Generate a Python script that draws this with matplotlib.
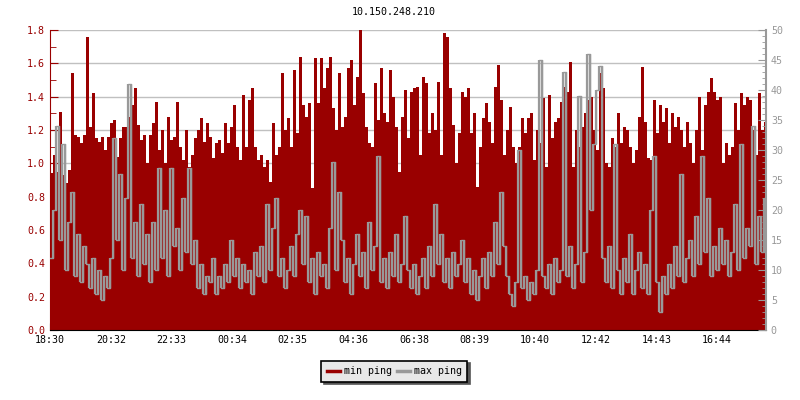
import numpy as np
import matplotlib
matplotlib.use("Agg")
import matplotlib.pyplot as plt
from matplotlib.ticker import MultipleLocator, FormatStrFormatter

# ping samples, one every 6 minutes starting 18:30
min_ping = [
    # 18:30 - 00:30
    0.94, 1.05, 0.95, 1.31, 0.93, 0.88, 0.96, 1.54, 1.17, 1.16,
    1.12, 1.17, 1.76, 1.22, 1.42, 1.15, 1.13, 1.16, 1.08, 1.16,
    1.24, 1.26, 1.04, 1.15, 1.22, 1.22, 1.28, 1.35, 1.45, 1.23,
    1.14, 1.17, 1.00, 1.17, 1.24, 1.37, 1.08, 1.20, 1.00, 1.28,
    1.14, 1.16, 1.37, 1.10, 1.02, 1.20, 0.98, 1.05, 1.15, 1.20,
    1.27, 1.13, 1.24, 1.16, 1.03, 1.12, 1.14, 1.06, 1.24, 1.12,
    # 00:30 - 06:30
    1.22, 1.35, 1.10, 1.02, 1.41, 1.10, 1.38, 1.45, 1.10, 1.02,
    1.05, 0.98, 1.02, 0.89, 1.24, 1.05, 1.10, 1.54, 1.20, 1.27,
    1.10, 1.56, 1.18, 1.64, 1.35, 1.28, 1.36, 0.85, 1.63, 1.36,
    1.63, 1.45, 1.57, 1.64, 1.33, 1.20, 1.54, 1.22, 1.28, 1.57,
    1.62, 1.35, 1.52, 1.80, 1.42, 1.22, 1.12, 1.10, 1.48, 1.26,
    1.57, 1.30, 1.25, 1.56, 1.40, 1.22, 0.95, 1.28, 1.44, 1.15,
    # 06:30 - 12:30
    1.43, 1.45, 1.46, 1.05, 1.52, 1.48, 1.18, 1.30, 1.20, 1.49,
    1.05, 1.78, 1.76, 1.45, 1.23, 1.00, 1.18, 1.43, 1.40, 1.45,
    1.18, 1.30, 0.86, 1.10, 1.27, 1.36, 1.25, 1.12, 1.46, 1.59,
    1.38, 1.05, 1.20, 1.34, 1.10, 1.00, 1.10, 1.27, 1.18, 1.27,
    1.30, 1.02, 1.20, 1.12, 1.39, 0.98, 1.41, 1.15, 1.25, 1.27,
    1.37, 1.46, 1.43, 1.61, 0.98, 1.20, 1.10, 1.22, 1.30, 1.38,
    # 12:30 - 18:24
    1.40, 1.20, 1.08, 1.54, 1.45, 1.00, 0.98, 1.15, 1.10, 1.30,
    1.12, 1.22, 1.20, 1.10, 1.00, 1.08, 1.28, 1.58, 1.25, 1.03,
    1.02, 1.38, 1.18, 1.35, 1.25, 1.33, 1.12, 1.30, 1.22, 1.28,
    1.20, 1.10, 1.25, 1.12, 1.00, 1.20, 1.40, 1.08, 1.35, 1.43,
    1.51, 1.43, 1.38, 1.40, 1.00, 1.12, 1.05, 1.10, 1.36, 1.20,
    1.42, 1.35, 1.40, 1.38, 1.20, 1.05, 1.42, 1.20, 1.25,
]

max_ping = [
    12, 20, 34, 15, 31, 10, 18, 23, 9, 16,
    8, 14, 11, 7, 12, 6, 10, 5, 9, 7,
    12, 32, 15, 26, 10, 22, 41, 12, 18, 9,
    21, 11, 16, 8, 18, 10, 27, 12, 20, 9,
    27, 14, 17, 10, 22, 13, 27, 11, 15, 7,
    11, 6, 9, 8, 12, 6, 9, 7, 11, 8,
    15, 9, 12, 7, 11, 8, 10, 6, 13, 9,
    14, 8, 21, 10, 17, 22, 9, 12, 7, 10,
    14, 9, 16, 20, 11, 19, 8, 12, 6, 13,
    9, 11, 7, 17, 28, 10, 23, 15, 8, 12,
    6, 11, 16, 9, 13, 7, 18, 10, 14, 29,
    8, 12, 7, 13, 9, 16, 8, 11, 19, 10,
    7, 11, 6, 9, 12, 7, 14, 9, 21, 11,
    16, 8, 12, 7, 13, 9, 11, 15, 8, 12,
    6, 10, 5, 9, 12, 7, 13, 9, 18, 11,
    23, 14, 9, 6, 4, 8, 30, 7, 9, 5,
    8, 6, 10, 45, 9, 7, 11, 6, 12, 8,
    10, 43, 9, 14, 7, 11, 39, 8, 13, 46,
    20, 31, 40, 44, 12, 8, 14, 7, 31, 10,
    6, 12, 8, 16, 6, 10, 13, 7, 11, 6,
    20, 29, 8, 3, 9, 6, 11, 7, 14, 9,
    26, 8, 12, 15, 9, 19, 11, 29, 13, 22,
    9, 14, 10, 17, 11, 15, 9, 13, 21, 10,
    31, 12, 17, 14, 34, 11, 19, 13, 22,
]

tick_minutes = [0, 122, 243, 364, 485, 606, 728, 849, 970, 1092, 1213, 1334]
tick_labels = ["18:30", "20:32", "22:33", "00:34", "02:35", "04:36",
               "06:38", "08:39", "10:40", "12:42", "14:43", "16:44"]

RED = "#990000"
GRAY = "#999999"
FS = 7.2
plt.rcParams["font.family"] = "DejaVu Sans Mono"

step = 6
t = np.arange(len(min_ping)) * step
t_ext = np.append(t, t[-1] + step)
min_ext = np.append(min_ping, min_ping[-1])
max_arr = np.asarray(max_ping, dtype=float)
max_ext = np.append(max_arr, max_arr[-1])

# vertical transitions of the max ping line, drawn a bit thicker
prev = np.concatenate([[max_arr[0]], max_arr[:-1]])
lo = np.minimum(prev, max_arr)
hi = np.maximum(prev, max_arr)

fig = plt.figure(figsize=(8, 4), dpi=100)
ax = fig.add_axes([0.0625, 0.175, 0.895, 0.75])
ax2 = ax.twinx()

ax.fill_between(t_ext, min_ext, step="post", color=RED, linewidth=0)
ax2.step(t_ext, max_ext, where="post", color=GRAY, lw=1.0)
ax2.vlines(t, lo, hi, color=GRAY, lw=1.6)

ax.set_xlim(0, 1432)
ax.set_ylim(0, 1.8)
ax2.set_ylim(0, 50)

ax.set_axisbelow(True)
ax.grid(axis="y", color="#c0c0c0", lw=1)
ax.set_xticks(tick_minutes)
ax.set_xticklabels(tick_labels)
ax.yaxis.set_major_locator(MultipleLocator(0.2))
ax.yaxis.set_minor_locator(MultipleLocator(0.1))
ax.yaxis.set_major_formatter(FormatStrFormatter("%.1f"))
ax2.yaxis.set_major_locator(MultipleLocator(5))
ax2.yaxis.set_minor_locator(MultipleLocator(1))

ax.tick_params(axis="x", direction="in", length=5, labelsize=FS, colors="black")
ax.tick_params(axis="y", which="major", direction="in", length=6, color=RED,
               labelcolor=RED, labelsize=FS)
ax.tick_params(axis="y", which="minor", direction="in", length=4, color=RED)
ax2.tick_params(axis="y", which="major", direction="in", length=6, color=GRAY,
                labelcolor=GRAY, labelsize=FS)
ax2.tick_params(axis="y", which="minor", direction="in", length=3, color=GRAY)

for a in (ax, ax2):
    a.spines["top"].set_visible(False)
ax.spines["right"].set_visible(False)
ax2.spines["left"].set_visible(False)
ax2.spines["bottom"].set_visible(False)
ax.spines["left"].set_color(RED)
ax2.spines["right"].set_color(GRAY)
ax2.spines["right"].set_linewidth(1.5)

fig.text(0.4925, 0.97, "10.150.248.210", ha="center", va="center", fontsize=FS)

h1 = plt.Line2D([], [], color=RED, lw=2.5)
h2 = plt.Line2D([], [], color=GRAY, lw=2.5)
leg = fig.legend([h1, h2], ["min ping", "max ping"], loc="center",
                 bbox_to_anchor=(0.4925, 0.072), ncol=2, fontsize=FS,
                 handlelength=1.3, handletextpad=0.4, columnspacing=0.5,
                 fancybox=False, framealpha=1, facecolor="#e8e8e8",
                 edgecolor="black", borderpad=0.55, borderaxespad=0,
                 shadow={"color": "#555555", "alpha": 1})
leg.get_frame().set_linewidth(1.2)

fig.savefig("out.png", dpi=100)
